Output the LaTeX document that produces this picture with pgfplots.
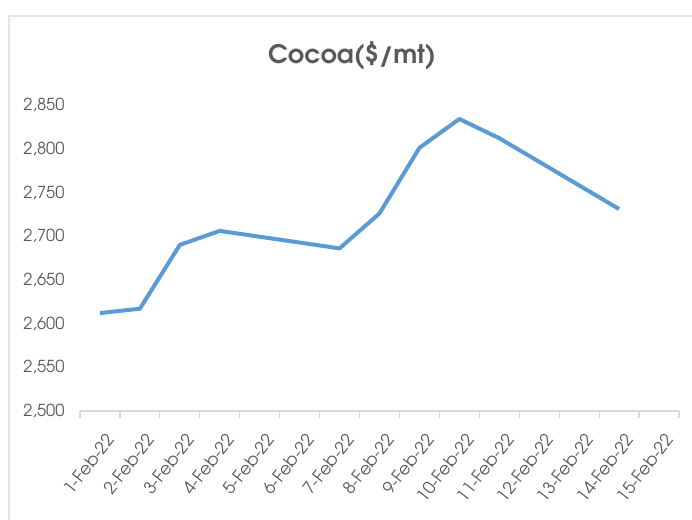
\documentclass[border=0pt]{standalone}
\usepackage{pgfplots}
\pgfplotsset{compat=1.18}
\usepackage{fontspec}
\setmainfont{TeX Gyre Adventor}
\definecolor{lineblue}{HTML}{5B9BD5}
\definecolor{txtgray}{HTML}{595959}
\definecolor{axgray}{HTML}{D9D9D9}
\begin{document}
\begin{tikzpicture}
\useasboundingbox (0,0) rectangle (692bp,520bp);
\draw[axgray!70, line width=1.2bp] (9bp,0) -- (9bp,504bp) -- (692bp,504bp);
\begin{axis}[
  at={(80bp,109bp)}, anchor=south west,
  scale only axis, width=599bp, height=306bp,
  xmin=0.5, xmax=15.5, ymin=2500, ymax=2850,
  axis x line=bottom, axis y line=left,
  x axis line style={axgray, line width=1.2bp, -},
  y axis line style={draw=none},
  xtick={1,...,15},
  xticklabels={1-Feb-22,2-Feb-22,3-Feb-22,4-Feb-22,5-Feb-22,6-Feb-22,7-Feb-22,8-Feb-22,9-Feb-22,10-Feb-22,11-Feb-22,12-Feb-22,13-Feb-22,14-Feb-22,15-Feb-22},
  major tick length=0pt,
  extra x ticks={0.5,1.5,...,15.5},
  extra x tick labels={},
  extra x tick style={major tick length=7bp, tick align=outside, tick style={axgray, line width=1.2bp}},
  ytick={2500,2550,...,2850},
  yticklabels={{2,500},{2,550},{2,600},{2,650},{2,700},{2,750},{2,800},{2,850}},
  yticklabel style={font=\fontsize{16.5bp}{18bp}\selectfont, text=txtgray, anchor=east, xshift=-12bp},
  xticklabel style={font=\fontsize{17bp}{19bp}\selectfont, text=txtgray, rotate=52, anchor=east, yshift=-24bp, xshift=-10bp},
  title={Cocoa(\$/mt)},
  title style={font=\fontsize{25.5bp}{28bp}\selectfont\bfseries, text=txtgray, at={(0.454,1)}, anchor=center, yshift=43bp},
  clip=false,
]
\addplot[lineblue, line width=4bp, line join=round] coordinates {
(1,2612) (2,2617) (3,2690) (4,2706) (7,2686) (8,2726) (9,2801) (10,2834) (11,2812) (14,2731)
};
\end{axis}
\end{tikzpicture}
\end{document}
